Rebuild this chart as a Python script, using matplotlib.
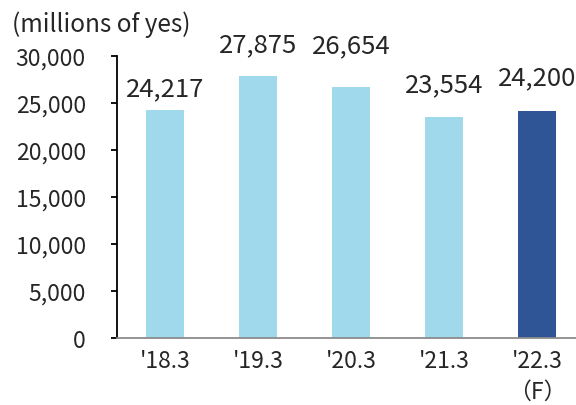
import matplotlib
matplotlib.use("Agg")
import matplotlib.pyplot as plt

plt.rcParams['font.family'] = ['Noto Sans CJK JP', 'DejaVu Sans']

periods = ["'18.3", "'19.3", "'20.3", "'21.3", "'22.3\n（F）"]
sales = [24217, 27875, 26654, 23554, 24200]
forecast = [False, False, False, False, True]

# vertical gap (points) between bar top and its value label
label_offsets = [11, 18, 25, 18, 19]

light = "#A0D9EC"
dark = "#2F5597"
text_color = "#262626"

fig = plt.figure(figsize=(5.76, 4.06), dpi=100)
ax = fig.add_axes([117 / 576, 1 - 339 / 406, 1 - 117 / 576, (339 - 57) / 406])

x = range(len(periods))
colors = [dark if f else light for f in forecast]
ax.bar(x, sales, width=0.41, color=colors, zorder=2)

for i, v in enumerate(sales):
    ax.annotate(f"{v:,}", (i, v), xytext=(0, label_offsets[i]),
                textcoords="offset points", ha="center", va="baseline",
                fontsize=18.5, color=text_color)

ax.set_ylim(0, 30000)
ax.set_xlim(-0.52, 4.42)
ax.set_yticks(range(0, 30001, 5000))
ax.set_yticklabels([f"{t:,}" for t in range(0, 30001, 5000)])
ax.set_xticks(list(x))
ax.set_xticklabels(periods, linespacing=1.4)

ax.tick_params(axis="y", length=4.5, width=1.3, color="black", pad=18,
               labelsize=16.5, labelcolor=text_color)
ax.tick_params(axis="x", length=0, pad=8, labelsize=16.5, labelcolor=text_color)

for side in ["top", "right"]:
    ax.spines[side].set_visible(False)
ax.spines["left"].set_color("black")
ax.spines["left"].set_linewidth(1.3)
ax.spines["bottom"].set_color("#8C8C8C")
ax.spines["bottom"].set_linewidth(1.3)

fig.text(12 / 576, 1 - 32 / 406, "(millions of yes)", fontsize=17.5,
         color=text_color, va="baseline", ha="left")

fig.savefig("out.png", dpi=100)
